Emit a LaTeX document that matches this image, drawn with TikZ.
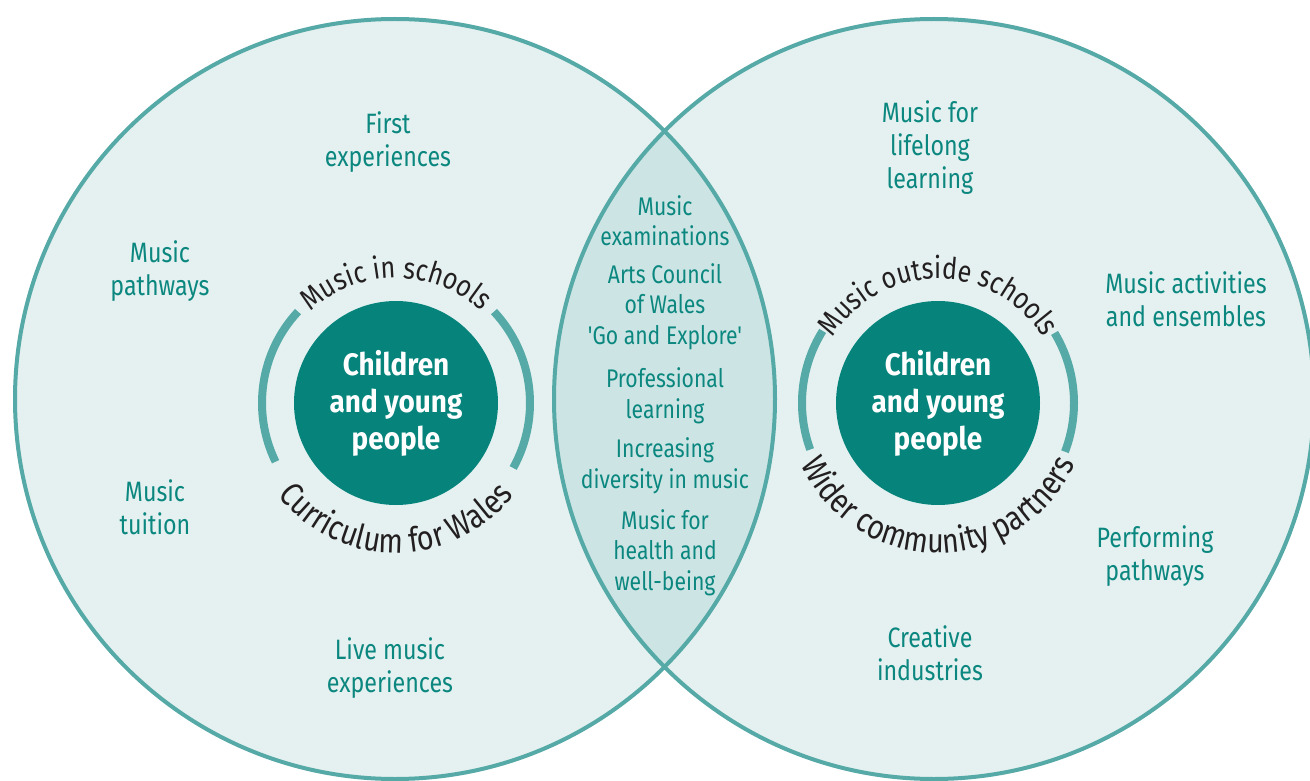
\documentclass[tikz,border=0pt]{standalone}
\usepackage{fontspec}
\setmainfont{Fira Sans}
\newfontfamily\condfont[FakeStretch=0.83,Ligatures=TeXOff]{Fira Sans}
\newfontfamily\ringfont[FakeStretch=0.84]{Fira Sans}
\newfontfamily\corefont[FakeStretch=0.9]{Fira Sans}
\usetikzlibrary{decorations.text}

\definecolor{vennfill}{HTML}{E4F1F0}
\definecolor{lensfill}{HTML}{CCE5E4}
\definecolor{vennline}{HTML}{55A9A6}
\definecolor{tealtext}{HTML}{0B877F}
\definecolor{diskfill}{HTML}{06847C}
\definecolor{ringtext}{HTML}{231F20}

\tikzset{
  itemtext/.style={text=tealtext, align=center, font=\condfont\fontsize{28}{33}\selectfont},
  lenstext/.style={text=tealtext, align=center, font=\condfont\fontsize{25.5}{30.5}\selectfont},
  core/.style={circle, fill=diskfill, minimum size=204pt, inner sep=0pt, text=white, align=center,
    font=\corefont\bfseries\fontsize{31}{37}\selectfont},
  ring/.style={line width=8pt, vennline},
  toparc/.style={decorate, decoration={text along path, text align=center, text color=ringtext,
    text={|\ringfont\fontsize{30}{33}\selectfont|#1}}},
  botarc/.style={decorate, decoration={text along path, text align=center, text color=ringtext,
    text={|\ringfont\fontsize{34}{37}\selectfont|#1}}},
}

\begin{document}
\begin{tikzpicture}[x=1pt,y=1pt]
  \useasboundingbox (0,0) rectangle (1310,-781);
  \fill[white] (0,0) rectangle (1310,-781);
  \def\R{380pt}
  \coordinate (cl) at (395,-399);
  \coordinate (cr) at (934,-399);
  % the two big circles and their overlap
  \fill[vennfill] (cl) circle[radius=\R];
  \fill[vennfill] (cr) circle[radius=\R];
  \begin{scope}
    \clip (cl) circle[radius=\R];
    \fill[lensfill] (cr) circle[radius=\R];
  \end{scope}
  \draw[vennline, line width=4pt] (cl) circle[radius=\R] (cr) circle[radius=\R];

  % left hub
  \node[core] (kidsl) at (396,-403) {Children\\and young\\people};
  \draw[ring] (kidsl.center) ++(137:134pt) arc[start angle=137, end angle=206, radius=134pt];
  \draw[ring] (kidsl.center) ++(-29:134pt) arc[start angle=-29, end angle=43, radius=134pt];
  \path[toparc={Music in schools}] (kidsl.center) ++(160:125pt) arc[start angle=160, end angle=20, radius=125pt];
  \path[botarc={Curriculum for Wales}] (kidsl.center) ++(200:150pt) arc[start angle=200, end angle=340, radius=150pt];

  % right hub
  \node[core] (kidsr) at (938,-403) {Children\\and young\\people};
  \draw[ring] (kidsr.center) ++(148:136pt) arc[start angle=148, end angle=200, radius=136pt];
  \draw[ring] (kidsr.center) ++(-21:136pt) arc[start angle=-21, end angle=31, radius=136pt];
  \path[toparc={Music outside schools}] (kidsr.center) ++(160:124pt) arc[start angle=160, end angle=20, radius=124pt];
  \path[botarc={Wider community partners}] (kidsr.center) ++(195:150pt) arc[start angle=195, end angle=345, radius=150pt];

  % Music in schools
  \node[itemtext] (first) at (388,-142.5) {First\\experiences};
  \node[itemtext] (pathl) at (160,-271.5) {Music\\pathways};
  \node[itemtext] (tuition) at (155,-507.5) {Music\\tuition};
  \node[itemtext] (live) at (390,-668.5) {Live music\\experiences};

  % overlap
  \node[lenstext] (exams) at (665,-220.5) {Music\\examinations};
  \node[lenstext] (arts) at (665,-306.5) {Arts Council\\of Wales\\'Go and Explore'};
  \node[lenstext] (prof) at (665,-396) {Professional\\learning};
  \node[lenstext] (diverse) at (665,-466) {Increasing\\diversity in music};
  \node[lenstext] (health) at (665,-552.5) {Music for\\health and\\well-being};

  % Music outside schools
  \node[itemtext] (lifelong) at (930,-148) {Music for\\lifelong\\learning};
  \node[itemtext] (ensembles) at (1186,-299.5) {Music activities\\and ensembles};
  \node[itemtext] (perform) at (1155,-556.5) {Performing\\pathways};
  \node[itemtext] (creative) at (930,-653.5) {Creative\\industries};
\end{tikzpicture}
\end{document}
